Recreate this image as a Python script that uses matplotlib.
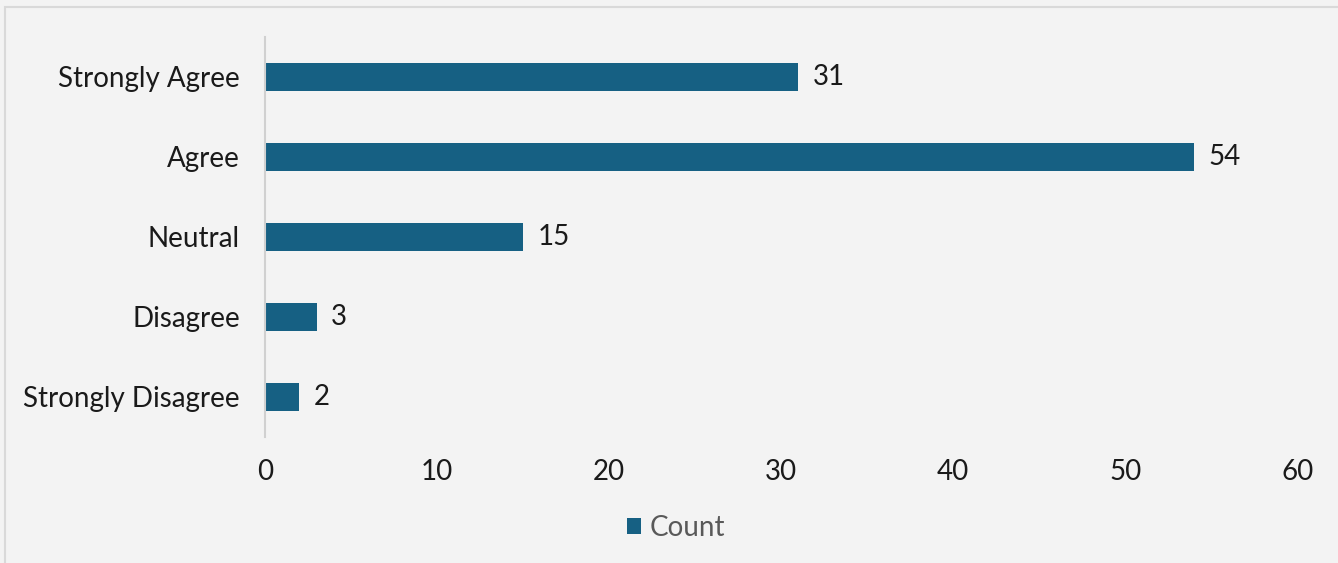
import matplotlib.pyplot as plt
from matplotlib.patches import Rectangle

categories = ["Strongly Agree", "Agree", "Neutral", "Disagree", "Strongly Disagree"]
counts = [31, 54, 15, 3, 2]
xticks = [0, 10, 20, 30, 40, 50, 60]

BAR = "#166083"
FS = 20
plt.rcParams['font.family'] = ['Lato', 'DejaVu Sans']

fig = plt.figure(figsize=(13.38, 5.63), dpi=100, facecolor="#f3f3f3")
ax = fig.add_axes([0.198, 0.2238, 0.7716, 0.7105])
ax.set_facecolor("none")

ypos = list(range(len(categories)))[::-1]
bars = ax.barh(ypos, counts, height=0.35, color=BAR, label="Count")
for y, v in zip(ypos, counts):
    ax.text(v + 0.85, y, str(v), va="center", ha="left", fontsize=FS, color="#1a1a1a")

ax.set_xlim(0, 60)
ax.set_ylim(-0.5, 4.5)
ax.set_yticks(ypos)
ax.set_yticklabels(categories, fontsize=FS, color="#1a1a1a")
ax.set_xticks(xticks)
ax.set_xticklabels([str(t) for t in xticks], fontsize=FS, color="#1a1a1a")
ax.tick_params(axis="both", length=0)
ax.tick_params(axis="y", pad=18)
ax.tick_params(axis="x", pad=16)
for s in ["top", "right", "bottom"]:
    ax.spines[s].set_visible(False)
ax.spines["left"].set_color("#d0d0d0")
ax.spines["left"].set_linewidth(1.5)

leg = fig.legend(handles=[bars], labels=["Count"], loc="center", bbox_to_anchor=(0.505, 0.062),
                 frameon=False, fontsize=FS, handlelength=0.52, handleheight=0.52,
                 handletextpad=0.3, labelcolor="#595959")

fig.patches.append(Rectangle((5 / 1338, -0.1), 1.1, 1 - 7 / 563 + 0.1, transform=fig.transFigure,
                             fill=False, edgecolor="#d9d9d9", linewidth=1.5))

fig.savefig("out.png", dpi=100, facecolor=fig.get_facecolor())
